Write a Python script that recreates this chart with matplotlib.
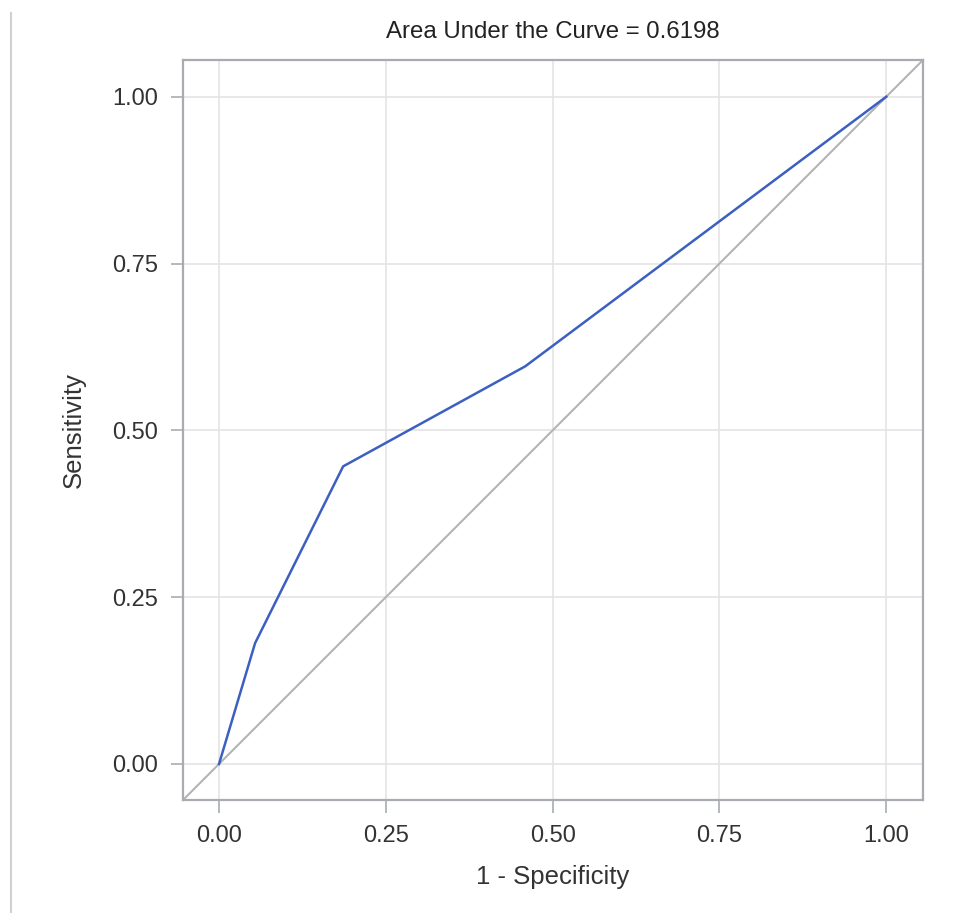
import matplotlib
matplotlib.use("Agg")
import matplotlib.pyplot as plt
from matplotlib.lines import Line2D

plt.rcParams['font.family'] = ['Liberation Sans', 'DejaVu Sans']

# ROC curve points
fpr = [0.0, 0.054, 0.186, 0.459, 1.0]
tpr = [0.0, 0.181, 0.446, 0.596, 1.0]
ticks = [0.0, 0.25, 0.5, 0.75, 1.0]
tick_labels = ["0.00", "0.25", "0.50", "0.75", "1.00"]
auc_text = "Area Under the Curve = 0.6198"

fig = plt.figure(figsize=(9.6, 9.13), dpi=100)
ax = fig.add_axes([183 / 960, 1 - 800 / 913, 740 / 960, 740 / 913])

lo, hi = -0.054, 1.055
ax.set_xlim(lo, hi)
ax.set_ylim(lo, hi)

# gridlines
ax.set_xticks(ticks)
ax.set_yticks(ticks)
ax.set_xticklabels(tick_labels)
ax.set_yticklabels(tick_labels)
ax.grid(True, color='#e4e4e4', linewidth=1.2, zorder=0)
ax.set_axisbelow(True)

# chance diagonal across the whole axes
ax.plot([lo, hi], [lo, hi], color='#b4b4b4', linewidth=1.5, zorder=2)
ax.plot(fpr, tpr, color='#3c60c0', linewidth=1.8, zorder=3)

for s in ax.spines.values():
    s.set_color('#a8acb0')
    s.set_linewidth(1.6)

ax.tick_params(direction='out', length=9, width=1.2, color='#a8acb0',
               labelsize=17, labelcolor='#333333', pad=9)

ax.set_xlabel("1 - Specificity", fontsize=18.5, color='#333333', labelpad=13)
ax.set_ylabel("Sensitivity", fontsize=18.5, color='#333333', labelpad=19)
ax.set_title(auc_text, fontsize=17.3, color='#222222', pad=15.5)

# thin line at the left edge of the page
fig.add_artist(Line2D([11 / 960, 11 / 960], [0, 1 - 13 / 913],
                      color='#d0d0d0', linewidth=1.5))

fig.savefig("out.png", dpi=100)
